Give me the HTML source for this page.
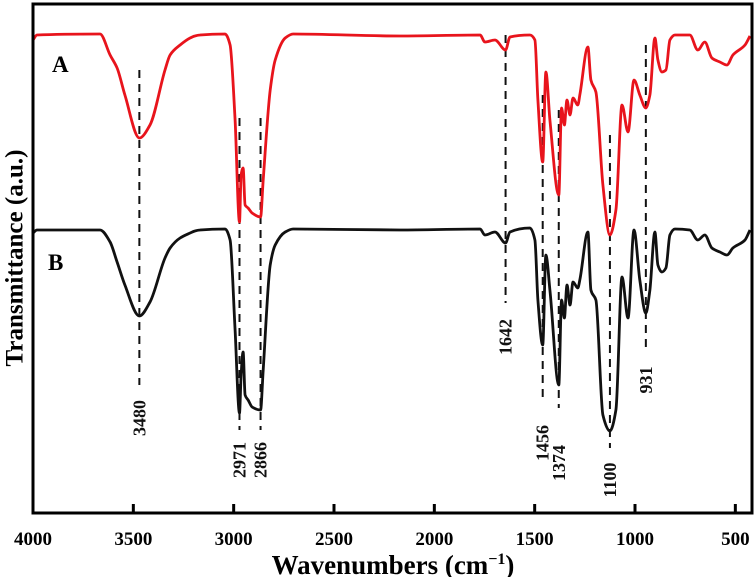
<!DOCTYPE html>
<html><head><meta charset="utf-8">
<style>
html,body{margin:0;padding:0;background:#fff;}
svg{display:block;font-family:"Liberation Serif",serif;font-weight:bold;}
</style></head>
<body>
<svg id="chart" width="756" height="577" viewBox="0 0 756 577" xmlns="http://www.w3.org/2000/svg"></svg>
<script>
const wavenumbers=[4000,3980,3666,3616,3581,3542,3470,3417,3342,3317,3267,3217,3193,3168,3043,3018,2993,2971,2963,2953,2943,2928,2908,2866,2853,2818,2793,2743,2704,2171,1772,1748,1698,1645,1623,1524,1499,1484,1460,1444,1424,1380,1366,1352,1339,1324,1309,1285,1275,1235,1220,1195,1160,1125,1095,1065,1035,1005,976,946,926,901,886,866,846,826,801,727,687,652,617,577,542,512,452,427];
const seriesA=[473,478,479,458,445,418,375,388,443,458,468,475,477,478,479,468,393,291,338,345,308,305,300,296,333,423,453,475,479,477,478,471,473,463,476,478,473,413,351,441,393,318,405,388,413,398,415,408,418,466,433,421,328,278,303,408,381,433,418,405,418,475,453,441,443,473,478,478,463,471,455,451,448,458,468,477];
const seriesB=[280,283,283,271,251,228,197,211,255,265,275,280,282,283,284,273,183,100,138,161,118,113,106,103,143,248,268,281,284,283,284,278,281,270,281,285,273,213,168,258,223,128,213,195,228,208,231,225,233,281,223,213,98,82,103,236,195,283,233,200,223,281,248,241,245,278,284,283,273,278,265,261,258,265,273,283];
const xTicks=[4000,3500,3000,2500,2000,1500,1000,500];
const peakLabels=["3480","2971","2866","1642","1456","1374","1100","931"];
const peakPos=[3470,2971,2866,1645,1460,1380,1125,946];
const peakTop=[443,395,395,478,418,403,378,468];
const peakBottom=[128,83,83,210,115,105,65,160];
const peakLabelY=[95,53,53,176,70,50,33,133];

const L=33,R=752,T=4,B=513;
const X0=4000,X1=417,Y0=0,Y1=509;
const xs=w=>L+(X0-w)/(X0-X1)*(R-L);
const ys=v=>B-(v-Y0)/(Y1-Y0)*(B-T);
const svg=document.getElementById('chart');
const NS='http://www.w3.org/2000/svg';
function mk(tag,attrs){const e=document.createElementNS(NS,tag);for(const k in attrs)e.setAttribute(k,attrs[k]);svg.appendChild(e);return e;}

for(let i=0;i<peakLabels.length;i++){
  const x=xs(peakPos[i]);
  const ln=mk('line',{x1:x,x2:x,y1:ys(peakTop[i]),y2:ys(peakBottom[i]),stroke:'#111','stroke-width':2,'stroke-dasharray':'8,6'});
  
  
  const ly=ys(peakLabelY[i]);
  const t=mk('text',{x:x,y:ly,'font-size':18,'text-anchor':'middle','dominant-baseline':'central',transform:`rotate(-90 ${x} ${ly})`,fill:'#111'});
  t.textContent=peakLabels[i];
  
  
}

// monotone cubic (Fritsch-Carlson) to avoid overshoot
function path(vals,color,name){
  const P=wavenumbers.map((w,i)=>[xs(w),ys(vals[i])]);
  const n=P.length;
  const dx=[],s=[];
  for(let i=0;i<n-1;i++){dx.push(P[i+1][0]-P[i][0]);s.push((P[i+1][1]-P[i][1])/dx[i]);}
  const m=new Array(n);
  m[0]=s[0];m[n-1]=s[n-2];
  for(let i=1;i<n-1;i++){
    if(s[i-1]*s[i]<=0)m[i]=0;
    else{const w1=2*dx[i]+dx[i-1],w2=dx[i]+2*dx[i-1];m[i]=(w1+w2)/(w1/s[i-1]+w2/s[i]);}
  }
  let d='M'+P[0][0].toFixed(1)+','+P[0][1].toFixed(1);
  for(let i=0;i<n-1;i++){
    const h=dx[i]/3;
    d+='C'+(P[i][0]+h).toFixed(1)+','+(P[i][1]+m[i]*h).toFixed(1)+' '+(P[i+1][0]-h).toFixed(1)+','+(P[i+1][1]-m[i+1]*h).toFixed(1)+' '+P[i+1][0].toFixed(1)+','+P[i+1][1].toFixed(1);
  }
  const p=mk('path',{d:d,fill:'none',stroke:color,'stroke-width':2.8,'stroke-linejoin':'round'});
  
  
}
path(seriesB,'#111','series-b-line');
path(seriesA,'#e8141c','series-a-line');

const fr=mk('rect',{x:L,y:T,width:R-L,height:B-T,fill:'none',stroke:'#000','stroke-width':3});



xTicks.forEach(w=>{
  const x=xs(w);
  const tk=mk('line',{x1:x,x2:x,y1:B,y2:B-9,stroke:'#000','stroke-width':3});
  
  
  const t=mk('text',{x:x,y:545,'font-size':19,'text-anchor':'middle',fill:'#000'});
  t.textContent=w;
  
  
});

const a=mk('text',{x:52,y:72,'font-size':23,fill:'#000'});a.textContent='A';


const b=mk('text',{x:48,y:270,'font-size':23,fill:'#000'});b.textContent='B';



const xt=mk('text',{x:393,y:574,'font-size':27,'text-anchor':'middle',fill:'#000'});
xt.innerHTML='Wavenumbers (cm<tspan dy="-10" font-size="16">−1</tspan><tspan dy="10">)</tspan>';


const yt=mk('text',{x:15,y:258,'font-size':25,'text-anchor':'middle','dominant-baseline':'central',transform:'rotate(-90 15 258)',fill:'#000'});
yt.textContent='Transmittance (a.u.)';


</script>
</body></html>
